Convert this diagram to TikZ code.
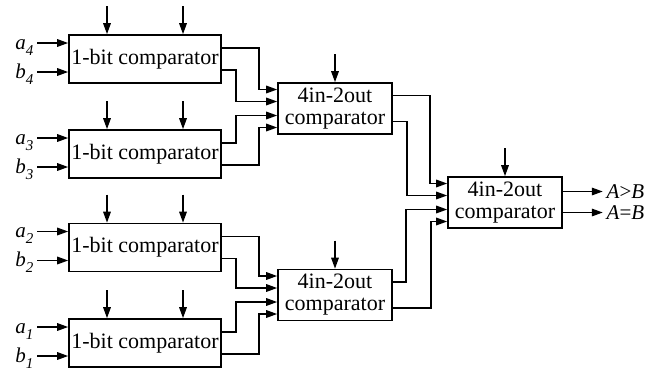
\documentclass[tikz,border=0pt]{standalone}
\usepackage{fontspec}
\setmainfont{Liberation Serif}
\usetikzlibrary{arrows.meta,calc}
\newcommand{\subdig}[1]{\raisebox{-6pt}{\fontsize{15}{15}\selectfont\textit{#1}}}
\newcommand{\bitbox}[3]{%
 \node[bit] (#1) at (145,#2) {1-bit comparator};
 \coordinate (#1ta) at ($(#1.north)+(-38,-28)$);
 \coordinate (#1tb) at ($(#1.north)+(38,-28)$);
 \draw[arr] (#1ta) -- (#1ta |- #1.north);
 \draw[arr] (#1tb) -- (#1tb |- #1.north);
 \coordinate (#1a) at ($(#1.west)+(-31,-16)$);
 \coordinate (#1b) at ($(#1.west)+(-31,13)$);
 \draw[arr] (#1a) -- (#1a -| #1.west);
 \draw[arr] (#1b) -- (#1b -| #1.west);
 \node[lbl,anchor=base east] (#1la) at ($(#1a)+(-3,6)$) {\textit{a}\subdig{#3}};
 \node[lbl,anchor=base east] (#1lb) at ($(#1b)+(-3,6)$) {\textit{b}\subdig{#3}};
}
\newcommand{\cmpbox}[3]{%
 \node[cmp] (#1) at (#2,#3) {4in-2out\\comparator};
 \coordinate (#1t) at ($(#1.north)+(0,-28)$);
 \draw[arr] (#1t) -- (#1.north);
}
\begin{document}
\begin{tikzpicture}[x=1pt,y=-1pt, line width=1.6pt,
  box/.style={draw, rectangle, inner sep=0pt, font=\fontsize{22}{22}\selectfont, align=center},
  bit/.style={box, minimum width=152pt, minimum height=48pt},
  cmp/.style={box, minimum width=114pt, minimum height=51pt},
  arr/.style={-{Triangle[length=11pt,width=7.5pt]}},
  lbl/.style={font=\fontsize{21}{22}\selectfont, inner sep=0pt}]
\useasboundingbox (0,0) rectangle (671,375);
\bitbox{p1}{59}{4}
\bitbox{p2}{154}{3}
\bitbox{p3}{247.5}{2}
\bitbox{p4}{343}{1}
\cmpbox{m1}{335}{108.5}
\cmpbox{m2}{335}{295}
\cmpbox{f}{505}{202.5}
% 1-bit to mid
\draw[arr] ($(p1.east)+(0,-11)$) -- ++(37,0) |- ($(m1.west)+(0,-19)$);
\draw[arr] ($(p1.east)+(0,11)$) -- ++(14,0) |- ($(m1.west)+(0,-7)$);
\draw[arr] ($(p2.east)+(0,-11)$) -- ++(14,0) |- ($(m1.west)+(0,7)$);
\draw[arr] ($(p2.east)+(0,11)$) -- ++(37,0) |- ($(m1.west)+(0,19)$);
\draw[arr] ($(p3.east)+(0,-11)$) -- ++(37,0) |- ($(m2.west)+(0,-19)$);
\draw[arr] ($(p3.east)+(0,11)$) -- ++(14,0) |- ($(m2.west)+(0,-7)$);
\draw[arr] ($(p4.east)+(0,-11)$) -- ++(14,0) |- ($(m2.west)+(0,7)$);
\draw[arr] ($(p4.east)+(0,11)$) -- ++(37,0) |- ($(m2.west)+(0,19)$);
% mid to final
\draw[arr] ($(m1.east)+(0,-13)$) -- ++(37,0) |- ($(f.west)+(0,-19)$);
\draw[arr] ($(m1.east)+(0,13)$) -- ++(14,0) |- ($(f.west)+(0,-7)$);
\draw[arr] ($(m2.east)+(0,-13)$) -- ++(13,0) |- ($(f.west)+(0,7)$);
\draw[arr] ($(m2.east)+(0,13)$) -- ++(38,0) |- ($(f.west)+(0,19)$);
% outputs
\coordinate (o1) at ($(f.east)+(40,-11)$);
\coordinate (o2) at ($(f.east)+(40,10)$);
\draw[arr] (f.east |- o1) -- (o1);
\draw[arr] (f.east |- o2) -- (o2);
\node[lbl,anchor=base west] (l1) at ($(o1)+(3,7)$) {\textit{A}>\textit{B}};
\node[lbl,anchor=base west] (l2) at ($(o2)+(3,7)$) {\textit{A}=\textit{B}};
\end{tikzpicture}
\end{document}
